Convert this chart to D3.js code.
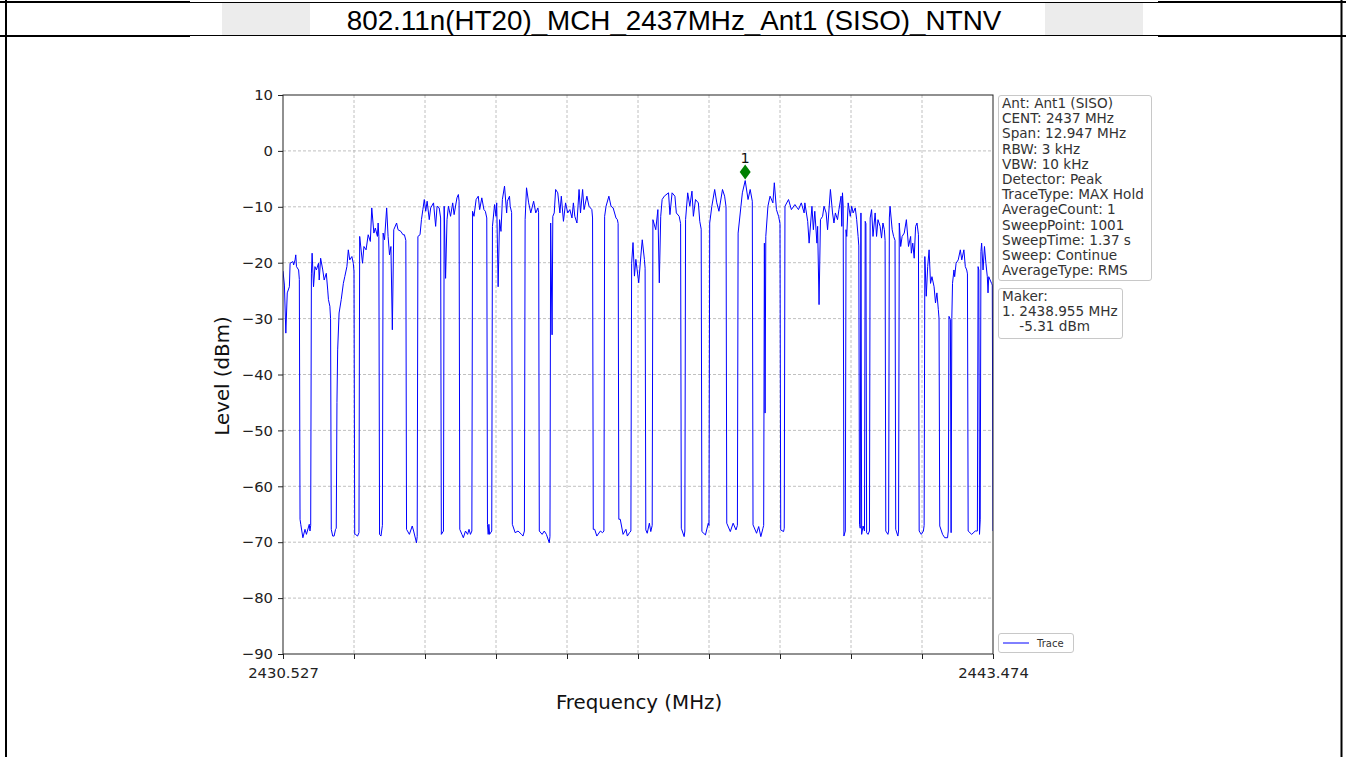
<!DOCTYPE html>
<html><head><meta charset="utf-8">
<script src="https://cdn.jsdelivr.net/npm/d3@7"></script>
<style>
html,body{margin:0;padding:0;background:#fff;}
svg text{font-family:"DejaVu Sans",sans-serif;}
</style></head>
<body>
<svg id="c" width="1346" height="757"></svg>
<script>
// ---- data ----
const titleText = "802.11n(HT20)_MCH_2437MHz_Ant1 (SISO)_NTNV";
const freqStart = 2430.527, freqStop = 2443.474, sweepPoints = 1001;
const yTicks = [-90,-80,-70,-60,-50,-40,-30,-20,-10,0,10];
const xTickLabels = ["2430.527","","","","","","","","","","2443.474"];
const infoLines = ["Ant: Ant1 (SISO)","CENT: 2437 MHz","Span: 12.947 MHz","RBW: 3 kHz","VBW: 10 kHz","Detector: Peak","TraceType: MAX Hold","AverageCount: 1","SweepPoint: 1001","SweepTime: 1.37 s","Sweep: Continue","AverageType: RMS"];
const markerLines = ["Maker:","1. 2438.955 MHz","    -5.31 dBm"];
const markerFreq = 2438.955, markerLevel = -5.31;
const sweepPoint = [0,2,4,6,9,10,14,15,17,18,19,22,23,24,25,28,31,33,37,38,39,40,41,43,45,47,50,51,53,56,58,61,63,64,66,67,68,70,72,74,75,76,77,79,82,85,87,90,92,94,97,99,100,101,102,105,107,108,112,114,117,120,123,125,128,130,133,134,135,136,138,140,141,143,146,148,150,152,154,156,160,162,166,169,171,173,174,178,182,184,188,189,190,193,195,197,199,201,203,206,208,212,215,217,220,222,223,226,227,229,231,233,236,239,241,245,247,248,249,252,254,257,260,262,264,266,267,269,272,275,277,280,283,285,287,288,289,290,291,294,295,298,300,301,303,305,307,309,312,315,316,319,320,322,323,327,331,336,338,340,341,343,346,349,353,356,359,360,361,365,368,371,375,376,377,379,380,382,384,387,390,392,395,398,401,404,407,409,411,414,417,419,422,424,428,431,435,436,437,439,442,447,450,452,453,455,459,462,465,469,471,472,473,475,479,483,485,488,490,491,493,495,497,501,504,506,509,510,511,513,516,518,520,521,525,528,530,532,534,537,543,545,548,552,554,558,560,561,565,566,567,570,573,576,578,581,585,587,589,590,595,599,600,601,604,608,611,614,619,622,624,625,630,634,638,640,641,645,647,651,655,658,661,662,667,670,673,676,677,678,679,680,683,686,690,692,695,698,700,701,705,706,707,712,716,721,726,730,734,735,739,741,745,747,749,752,753,755,757,760,762,765,767,771,774,776,778,781,783,786,787,788,789,790,792,793,794,796,799,801,803,806,808,810,811,812,813,814,815,817,819,820,821,822,824,826,827,829,831,834,836,838,841,843,845,847,848,849,852,853,854,855,858,860,862,863,866,867,868,870,872,875,878,881,884,885,887,889,891,893,895,896,899,902,903,904,906,908,910,912,914,917,919,921,923,924,925,929,932,936,937,938,940,941,942,943,945,946,948,951,954,956,959,961,963,964,965,970,975,978,979,980,981,982,983,984,986,988,990,992,993,994,998,999,1000];
const levelDbm = [-21.5,-24,-32.6,-25.4,-24.3,-20.1,-19.8,-20.4,-19.5,-18.6,-20.7,-21.3,-23,-65.9,-66.8,-69.2,-67.7,-68.6,-66.8,-68.0,-67,-22,-18.3,-24.3,-20.7,-21.3,-20.1,-23.1,-19.2,-21.3,-23.1,-21.9,-24.9,-26.6,-27.8,-30,-67.7,-68.9,-68.9,-67.7,-67.5,-45,-35.6,-29.0,-26.6,-23.7,-22.5,-20.7,-17.7,-19.5,-18.9,-20.1,-21.5,-68.6,-68.6,-68.9,-68.3,-15.3,-20.1,-17.1,-17.7,-15.0,-16.2,-10.2,-14.7,-13.8,-15.3,-12.9,-15.3,-68.6,-68.9,-67,-14.7,-15.9,-10.2,-15.3,-18.6,-17.1,-32.0,-14.1,-12.9,-14.1,-14.4,-15.0,-15.0,-16,-67.7,-68.6,-67.1,-68.0,-70.1,-69,-15.3,-15.0,-12.3,-10.5,-8.7,-10.8,-9.0,-12.3,-10.2,-9.3,-13.5,-9.9,-10.2,-12,-68.6,-68,-9.9,-22.8,-12.3,-9.9,-11.7,-9.3,-11.4,-8.4,-7.8,-9,-67.7,-68.6,-69.2,-68.0,-68.6,-67.7,-68.6,-68,-10.8,-11.7,-8.7,-8.1,-10.5,-8.4,-10.5,-10.8,-12,-66.8,-68.6,-66.8,-68.6,-68,-13.5,-9.6,-11.7,-9.3,-24.3,-12.3,-14.4,-8.7,-6.3,-11.1,-9.0,-8.1,-9.9,-11,-66.8,-68.3,-68.0,-68.6,-68.9,-68,-12.3,-6.6,-9.3,-11.1,-9.0,-11.1,-10.2,-11,-68.0,-68.6,-68.0,-68.6,-70.1,-69,-12.9,-32.9,-11.7,-11.1,-6.9,-7.5,-11.1,-8.1,-12.6,-9.3,-11.1,-10.5,-12.0,-9.3,-11.7,-12.9,-6.9,-11.1,-6.9,-10.5,-8.1,-9.9,-10.5,-12,-67.7,-67.7,-68.9,-68.0,-68.3,-68,-11.7,-9.9,-8.1,-9.9,-10.2,-12.0,-12.3,-13,-65.9,-65.9,-68.6,-67.7,-68.9,-68.3,-68,-20.1,-16.4,-22.4,-19.4,-23.6,-18.8,-15.9,-19.4,-21,-67.8,-68.4,-66.6,-68.1,-67,-12.3,-14.1,-10.5,-23.6,-11.7,-8.7,-8.1,-7.5,-11.4,-7.5,-8.1,-11.1,-11.7,-13,-67.5,-69.0,-68,-12.3,-7.5,-9.9,-7.2,-11.7,-8.7,-9.3,-12.6,-14,-68.1,-68.7,-66.6,-67,-12.9,-9.9,-6.9,-9.3,-10.8,-6.9,-8.1,-10,-66.6,-68.1,-66.6,-67.8,-67,-14.7,-9.9,-7.5,-5.31,-8.7,-6.9,-9,-66.9,-68.4,-67.2,-69.0,-67.5,-67,-16.5,-46.9,-15.3,-9.9,-8.1,-9.3,-5.7,-10.5,-11.7,-13,-67.8,-68.1,-67.5,-9.9,-8.7,-10.5,-9.6,-10.5,-9.3,-11.1,-9.3,-12.6,-16.5,-9.9,-14.1,-10.8,-16.5,-13.5,-27.5,-12.3,-11.7,-9.9,-11.1,-14.1,-6.9,-11.1,-12.9,-11.1,-12.3,-10.5,-8.1,-13.5,-7.5,-10,-68.9,-68,-14.1,-15.3,-9.3,-11.7,-9.9,-11.1,-10.2,-12.3,-15.3,-17,-66.8,-67.5,-11.1,-68.6,-67.1,-68.0,-12.6,-13,-68.3,-68.6,-68,-12,-10.5,-15.3,-11.1,-15.3,-12.3,-13.5,-15.6,-12.9,-14.1,-16,-68.0,-68.6,-68,-12,-9.9,-14.1,-15.3,-16,-67.7,-68.9,-68,-12.9,-17.1,-15.3,-14.7,-12.3,-17.1,-15.3,-18.3,-16.5,-19.2,-13.5,-12.9,-15,-68.0,-68.6,-68.0,-67,-18.9,-26.0,-20.7,-17.7,-23.7,-22.5,-24.3,-27.2,-25.4,-28.4,-30,-67.1,-68.6,-69.2,-69.2,-68,-29.6,-30.2,-68.3,-30,-23.7,-21.3,-22.5,-20.1,-19.5,-17.7,-19.5,-17.7,-20.7,-21.3,-22,-68.0,-68.6,-68.0,-68,-20.7,-21.3,-68.6,-66,-18,-16.5,-21.3,-17.1,-20.1,-22.5,-25.4,-22.5,-23.7,-24.0,-68];

// ---- drawing ----
const svg = d3.select("#c");
const W = 1346, H = 757;
const L = 283, R = 993, T = 95, B = 654;

// page frame (report table look)
svg.append("rect").attr("x",222).attr("y",3).attr("width",88).attr("height",33).attr("fill","#ececec");
svg.append("rect").attr("x",1045).attr("y",3).attr("width",98).attr("height",33).attr("fill","#ececec");
const frame = svg.append("g").attr("stroke","#000").attr("fill","none");
frame.append("line").attr("x1",0).attr("x2",190).attr("y1",2).attr("y2",2).attr("stroke-width",2);
frame.append("line").attr("x1",190).attr("x2",1158).attr("y1",2.5).attr("y2",2.5).attr("stroke-width",1);
frame.append("line").attr("x1",1158).attr("x2",W).attr("y1",2).attr("y2",2).attr("stroke-width",2);
frame.append("line").attr("x1",0).attr("x2",190).attr("y1",36).attr("y2",36).attr("stroke-width",2);
frame.append("line").attr("x1",190).attr("x2",1158).attr("y1",35.5).attr("y2",35.5).attr("stroke-width",1);
frame.append("line").attr("x1",1158).attr("x2",W).attr("y1",36).attr("y2",36).attr("stroke-width",2);
frame.append("line").attr("x1",6).attr("x2",6).attr("y1",0).attr("y2",H).attr("stroke-width",2);
frame.append("line").attr("x1",1341.5).attr("x2",1341.5).attr("y1",0).attr("y2",H).attr("stroke-width",2);
svg.append("text").attr("x",674).attr("y",30).attr("text-anchor","middle")
  .style("font-family","'Liberation Sans',Arial,sans-serif").style("font-size","27.8px").attr("fill","#000").text(titleText);

const x = d3.scaleLinear().domain([freqStart, freqStop]).range([L, R]);
const y = d3.scaleLinear().domain([-90, 10]).range([B, T]);
const span = freqStop - freqStart;
const xTicks = d3.range(11).map(i => freqStart + i*span/10);

// grid
const grid = svg.append("g").attr("stroke","#b0b0b0").attr("stroke-width",0.8).attr("stroke-dasharray","3,2");
grid.selectAll(".gx").data(xTicks.slice(1,-1)).enter().append("line")
  .attr("x1",d=>x(d)).attr("x2",d=>x(d)).attr("y1",T).attr("y2",B);
grid.selectAll(".gy").data(yTicks.slice(1,-1)).enter().append("line")
  .attr("x1",L).attr("x2",R).attr("y1",d=>y(d)).attr("y2",d=>y(d));

// trace
const pts = sweepPoint.map((p,i)=>[freqStart + p*span/(sweepPoints-1), levelDbm[i]]);
svg.append("defs").append("clipPath").attr("id","clip").append("rect").attr("x",L).attr("y",T).attr("width",R-L).attr("height",B-T);
svg.append("path").datum(pts).attr("clip-path","url(#clip)")
  .attr("d", d3.line().x(d=>x(d[0])).y(d=>y(d[1])))
  .attr("fill","none").attr("stroke","#0000ff").attr("stroke-width",1).attr("stroke-linejoin","round");

// axes
const fmtY = d => d < 0 ? "\u2212" + Math.abs(d) : String(d);
const xAxis = d3.axisBottom(x).tickValues(xTicks).tickSize(5).tickPadding(8.5).tickFormat((d,i)=>xTickLabels[i]);
const yAxis = d3.axisLeft(y).tickValues(yTicks).tickSize(5).tickPadding(5).tickFormat(fmtY);
const gx = svg.append("g").attr("transform",`translate(0,${B})`).call(xAxis);
const gy = svg.append("g").attr("transform",`translate(${L},0)`).call(yAxis);
[gx,gy].forEach(g=>{
  g.select(".domain").remove();
  g.selectAll(".tick line").attr("stroke","#222").attr("stroke-width",1);
  g.selectAll(".tick text").attr("fill","#222").style("font-family","'DejaVu Sans',sans-serif").style("font-size","14.8px");
});
svg.append("rect").attr("x",L).attr("y",T).attr("width",R-L).attr("height",B-T).attr("fill","none").attr("stroke","#222").attr("stroke-width",1);

svg.append("text").attr("x",639).attr("y",709).attr("text-anchor","middle").style("font-size","19.8px").attr("fill","#111").text("Frequency (MHz)");
svg.append("text").attr("transform","translate(229,376) rotate(-90)").attr("text-anchor","middle").style("font-size","19.8px").attr("fill","#111").text("Level (dBm)");

// marker
const mx = x(markerFreq), my = y(markerLevel) - 8.5;
svg.append("path").attr("d",`M${mx},${my-7.5}L${mx+5.5},${my}L${mx},${my+7.5}L${mx-5.5},${my}Z`).attr("fill","#008000");
svg.append("text").attr("x",mx).attr("y",my-9).attr("text-anchor","middle").style("font-size","14.5px").attr("fill","#111").text("1");

// info boxes
function box(x0,y0,w,h){
  svg.append("rect").attr("x",x0+0.5).attr("y",y0+0.5).attr("width",w).attr("height",h).attr("rx",2.5)
    .attr("fill","#fff").attr("stroke","#c8c8c8").attr("stroke-width",1);
}
box(998,95,153,185);
svg.append("g").selectAll("text").data(infoLines).enter().append("text")
  .attr("x",1002).attr("y",(d,i)=>108 + i*15.2).style("font-size","13.6px").attr("fill","#333").text(d=>d);
box(998,288,124,50);
svg.append("g").selectAll("text").data(markerLines).enter().append("text")
  .attr("x",1002).attr("y",(d,i)=>301 + i*15.2).style("font-size","13.6px").attr("fill","#333").style("white-space","pre").text(d=>d);

// legend
box(998,633,75,19);
svg.append("line").attr("x1",1003).attr("x2",1029).attr("y1",643).attr("y2",643).attr("stroke","#0000ff").attr("stroke-width",1);
svg.append("text").attr("x",1037).attr("y",647).style("font-size","10px").attr("fill","#333").text("Trace");
</script>
</body></html>
